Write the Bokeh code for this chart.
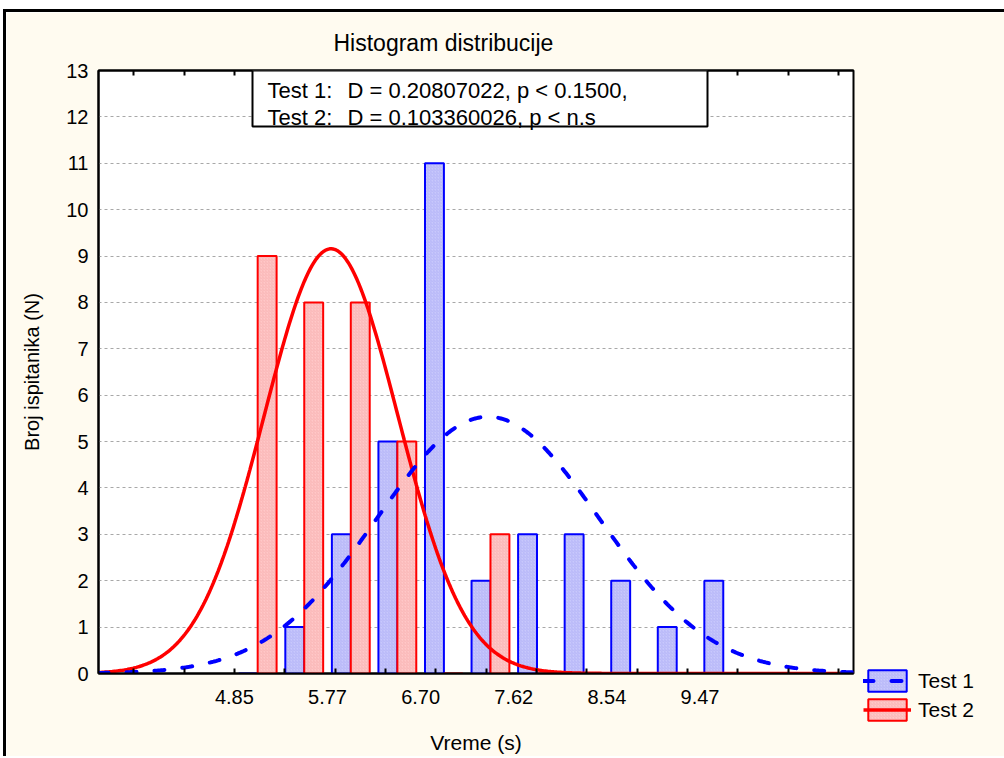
import numpy as np
from bokeh.plotting import figure
from bokeh.models import (ColumnDataSource, FixedTicker, LinearAxis, Range1d, Label,
                          BoxAnnotation, Legend, LegendItem)
from bokeh.transform import dodge
from bokeh.embed import file_html
from bokeh.resources import INLINE

# ---------------- data ----------------
bin_left = [4.850, 5.3125, 5.775, 6.2375, 6.700, 7.1625, 7.625, 8.0875, 8.550, 9.0125, 9.475]
bin_width = 0.4625
test1_counts = [0, 1, 3, 5, 11, 2, 3, 3, 2, 1, 2]
test2_counts = [9, 8, 8, 5, 0, 3, 0, 0, 0, 0, 0]

x_tick_values = [4.85, 5.775, 6.70, 7.625, 8.55, 9.475]
x_tick_labels = ["4.85", "5.77", "6.70", "7.62", "8.54", "9.47"]
x_minor_ticks = [3.85, 4.35, 4.85, 5.35, 5.85, 6.35, 6.85, 7.35, 7.85, 8.35,
                 8.85, 9.35, 9.85, 10.35, 10.85]
y_ticks = [0, 1, 2, 3, 4, 5, 6, 7, 8, 9, 10, 11, 12, 13]

n_subjects = 33
test1_mean, test1_sd = 7.37, 1.10
test2_mean, test2_sd = 5.81, 0.665

title_text = "Histogram distribucije"
stat_labels = ["Test 1:", "Test 2:"]
stat_values = ["D = 0.20807022, p < 0.1500,", "D = 0.103360026, p < n.s"]
series_names = ["Test 1", "Test 2"]
x_label = "Vreme (s)"
y_label = "Broj ispitanika (N)"

# ---------------- styling ----------------
FONT = "Liberation Sans"
FS = "20px"
BLUE = "#0000ff"
RED = "#ff0000"
CREAM = "#fffbf0"
W, H = 996, 744
ML, MT, FW, FH = 92, 58, 755, 603

centers = [l + bin_width / 2 for l in bin_left]
src = ColumnDataSource(dict(center=centers, t1=test1_counts, t2=test2_counts))

xs = np.linspace(3.5, 11.0, 500)


def fitted(mean, sd):
    return n_subjects * bin_width / (sd * np.sqrt(2 * np.pi)) * np.exp(-0.5 * ((xs - mean) / sd) ** 2)


curve_src = ColumnDataSource(dict(x=xs, y1=fitted(test1_mean, test1_sd), y2=fitted(test2_mean, test2_sd)))

p = figure(width=W, height=H, frame_width=FW, frame_height=FH,
           min_border_left=ML, min_border_right=W - ML - FW, min_border_top=MT,
           min_border_bottom=H - MT - FH,
           x_range=Range1d(3.5, 11.0), y_range=Range1d(0, 13),
           output_backend="svg", toolbar_location=None, x_axis_location=None, y_axis_location=None)
p.border_fill_color = CREAM
p.background_fill_color = "white"
p.outline_line_color = "black"
p.outline_line_width = 2
p.styles = {"margin-left": "3px", "margin-top": "9px",
            "border-left": "3px solid black", "border-top": "3px solid black"}

bar_w = 0.188
b1 = p.vbar(x=dodge("center", -bar_w / 2, range=p.x_range), top="t1", width=bar_w, source=src,
            fill_color="#c8c8fc", line_color=BLUE, line_width=2,
            hatch_pattern="/", hatch_color="#8080e8", hatch_alpha=0.4, hatch_scale=3, hatch_weight=0.6)
b2 = p.vbar(x=dodge("center", bar_w / 2, range=p.x_range), top="t2", width=bar_w, source=src,
            fill_color="#ffc8c8", line_color=RED, line_width=2,
            hatch_pattern="/", hatch_color="#e88080", hatch_alpha=0.4, hatch_scale=3, hatch_weight=0.6)
l2 = p.line("x", "y2", source=curve_src, line_color=RED, line_width=3.5)
l1 = p.line("x", "y1", source=curve_src, line_color=BLUE, line_width=4, line_dash="10 18", line_cap="round")

# title
p.title.text = title_text
p.title.text_font = FONT
p.title.text_font_size = "23px"
p.title.text_font_style = "normal"
p.title.text_color = "black"
p.title.align = "left"
p.title.offset = 235
p.title.standoff = 29

# axes
ticker = FixedTicker(ticks=x_tick_values, minor_ticks=x_minor_ticks)
labels = {v: t for v, t in zip(x_tick_values, x_tick_labels)}

xax = LinearAxis(ticker=ticker, major_label_overrides=labels)
top = LinearAxis(ticker=FixedTicker(ticks=[], minor_ticks=x_minor_ticks))
for ax in (xax, top):
    ax.major_tick_in = 0
    ax.major_tick_out = 0
    ax.minor_tick_in = 5
    ax.minor_tick_out = 0
    ax.minor_tick_line_color = "black"
    ax.minor_tick_line_width = 2
    ax.axis_line_color = "black"
    ax.axis_line_width = 2
    ax.major_label_text_font = FONT
    ax.major_label_text_font_size = FS
    ax.major_label_text_color = "black"
top.major_label_standoff = 0
xax.major_label_standoff = 16
xax.axis_label = x_label
xax.axis_label_text_font = FONT
xax.axis_label_text_font_size = "21px"
xax.axis_label_text_font_style = "normal"
xax.axis_label_text_color = "black"
xax.axis_label_standoff = 24
p.add_layout(xax, "below")
p.add_layout(top, "above")

yax = LinearAxis(ticker=FixedTicker(ticks=y_ticks, minor_ticks=[]))
yax.major_tick_in = 0
yax.major_tick_out = 0
yax.axis_line_color = "black"
yax.axis_line_width = 2
yax.major_label_text_font = FONT
yax.major_label_text_font_size = FS
yax.major_label_text_color = "black"
yax.major_label_standoff = 10
yax.axis_label = y_label
yax.axis_label_text_font = FONT
yax.axis_label_text_font_size = FS
yax.axis_label_text_font_style = "normal"
yax.axis_label_text_color = "black"
yax.axis_label_standoff = 20
p.add_layout(yax, "left")

p.xgrid.visible = False
p.ygrid.ticker = FixedTicker(ticks=y_ticks[1:-1])
p.ygrid.grid_line_color = "#a8a8a8"
p.ygrid.grid_line_dash = "3 3"
p.ygrid.grid_line_width = 1

# statistics box
p.add_layout(BoxAnnotation(left=154, right=609, top=603, bottom=547,
                           left_units="screen", right_units="screen", top_units="screen", bottom_units="screen",
                           fill_color="white", fill_alpha=1, line_color="black", line_alpha=1, line_width=2))
for i, (a, b) in enumerate(zip(stat_labels, stat_values)):
    yy = 583 - 27 * i
    p.add_layout(Label(x=169, y=yy, x_units="screen", y_units="screen", text=a, text_color="black",
                       text_font=FONT, text_font_size="22px", text_baseline="middle"))
    p.add_layout(Label(x=249, y=yy, x_units="screen", y_units="screen", text=b, text_color="black",
                       text_font=FONT, text_font_size="22px", text_baseline="middle"))

# legend (outside, right of the plot)
legend = Legend(items=[LegendItem(label=series_names[0], renderers=[b1, l1]),
                       LegendItem(label=series_names[1], renderers=[b2, l2])],
                location=(10, -50), glyph_width=48, glyph_height=27, spacing=2,
                padding=0, margin=0, label_standoff=7,
                label_text_font=FONT, label_text_font_size="21px", label_text_color="black",
                background_fill_alpha=0, border_line_color=None)
p.add_layout(legend, "right")

open("out.html", "w").write(file_html(p, INLINE))
